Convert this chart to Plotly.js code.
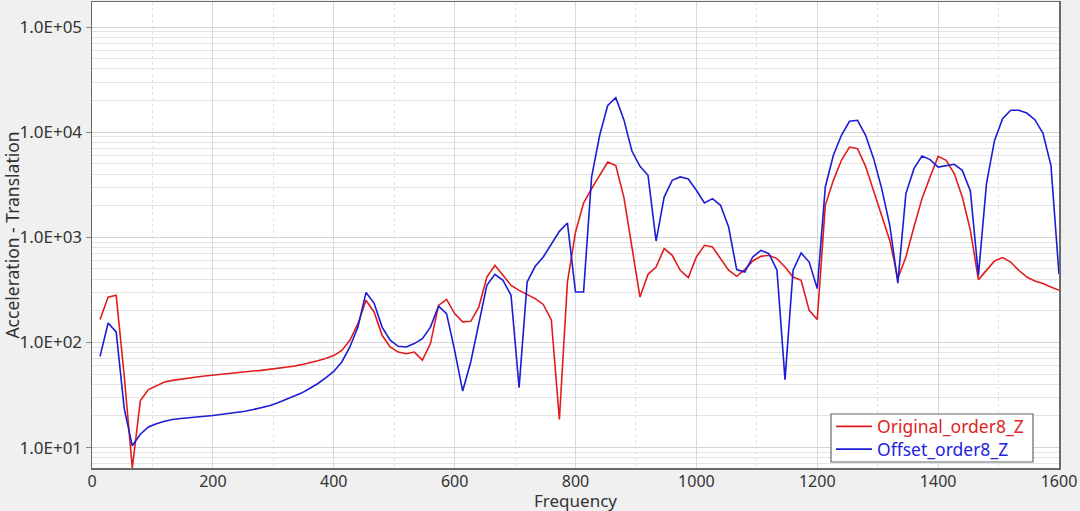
<!DOCTYPE html>
<html>
<head>
<meta charset="utf-8">
<script src="https://cdn.plot.ly/plotly-3.0.1.min.js"></script>
<style>
  html, body { margin: 0; padding: 0; background: #f0f0f0; }
  #chart { width: 1080px; height: 511px; }
</style>
</head>
<body>
<div id="chart"></div>
<script>
// Frequency (Hz) of order 8 samples
const frequency = [
  13.33, 26.67, 40, 53.33, 66.67, 80, 93.33, 106.67, 120, 133.33,
  146.67, 160, 173.33, 186.67, 200, 213.33, 226.67, 240, 253.33, 266.67,
  280, 293.33, 306.67, 320, 333.33, 346.67, 360, 373.33, 386.67, 400,
  413.33, 426.67, 440, 453.33, 466.67, 480, 493.33, 506.67, 520, 533.33,
  546.67, 560, 573.33, 586.67, 600, 613.33, 626.67, 640, 653.33, 666.67,
  680, 693.33, 706.67, 720, 733.33, 746.67, 760, 773.33, 786.67, 800,
  813.33, 826.67, 840, 853.33, 866.67, 880, 893.33, 906.67, 920, 933.33,
  946.67, 960, 973.33, 986.67, 1000, 1013.33, 1026.67, 1040, 1053.33, 1066.67,
  1080, 1093.33, 1106.67, 1120, 1133.33, 1146.67, 1160, 1173.33, 1186.67, 1200,
  1213.33, 1226.67, 1240, 1253.33, 1266.67, 1280, 1293.33, 1306.67, 1320, 1333.33,
  1346.67, 1360, 1373.33, 1386.67, 1400, 1413.33, 1426.67, 1440, 1453.33, 1466.67,
  1480, 1493.33, 1506.67, 1520, 1533.33, 1546.67, 1560, 1573.33, 1586.67, 1600
];

const originalOrder8Z = [
  165, 270, 281, 48, 6.4, 28, 35.6, 39, 42, 43.6,
  44.9, 45.9, 46.9, 48, 49, 50, 50.8, 51.9, 52.7, 53.5,
  54.3, 55.5, 56.5, 58, 59.5, 61.5, 64, 67, 70.5, 75,
  84, 105, 151, 252, 195, 117, 90.6, 81, 78, 81,
  68, 97.5, 225, 257, 188, 157, 159, 217, 419, 542,
  435, 349, 313, 287, 261, 230, 164, 18.5, 376, 1122,
  2118, 2904, 3890, 5200, 4810, 2415, 809, 270, 445, 522,
  781, 675, 486, 414, 650, 839, 809, 627, 486, 426,
  493, 596, 659, 675, 627, 522, 419, 390, 202, 165,
  2014, 3480, 5400, 7220, 6970, 4730, 2800, 1620, 935, 405,
  650, 1253, 2333, 3750, 5890, 5400, 4035, 2417, 1166, 396,
  486, 596, 641, 582, 486, 419, 384, 363, 337, 313
];

const offsetOrder8Z = [
  73.8, 153, 126, 23.5, 10.4, 13.4, 15.7, 16.9, 17.8, 18.5,
  18.9, 19.3, 19.6, 19.9, 20.2, 20.6, 21.1, 21.5, 22.2, 23,
  23.8, 25, 26.5, 28.5, 30.5, 33, 36.5, 40.5, 46, 53,
  65.2, 90.6, 140, 298, 237, 140, 105, 91.9, 90.6, 97.5,
  108.6, 140, 221, 188, 84, 34.5, 65.2, 151, 349, 445,
  390, 281, 37.2, 376, 530, 650, 850, 1140, 1367, 302,
  302, 3750, 9340, 18000, 21300, 13150, 6620, 4730, 3890, 922,
  2415, 3485, 3750, 3590, 2800, 2118, 2333, 2014, 1253, 493,
  468, 650, 752, 700, 486, 44.3, 486, 709, 582, 325,
  3010, 6030, 9340, 12680, 12970, 9340, 5600, 2904, 1300, 367,
  2606, 4500, 5930, 5480, 4660, 4840, 4950, 4335, 2760, 435,
  3240, 8360, 13460, 16150, 16150, 15200, 13150, 9820, 4840, 445
];

const seriesNames = ['Original_order8_Z', 'Offset_order8_Z'];
const xTitle = 'Frequency';
const yTitle = 'Acceleration - Translation';
const xTickVals = [0, 200, 400, 600, 800, 1000, 1200, 1400, 1600];
const yTickVals = [10, 100, 1000, 10000, 100000];
const yTickText = ['1.0E+01', '1.0E+02', '1.0E+03', '1.0E+04', '1.0E+05'];

const RED = 'rgb(226,28,28)';
const BLUE = 'rgb(28,28,214)';
const RED_TXT = 'rgb(222,36,36)';
const BLUE_TXT = 'rgb(36,36,222)';

const yMinor = [];
[1, 10, 100, 1000, 10000].forEach(d => {
  for (let m = 2; m <= 9; m++) yMinor.push(m * d);
});
yMinor.unshift(7, 8, 9);

const traces = [
  {
    x: frequency, y: originalOrder8Z, type: 'scatter', mode: 'lines',
    name: seriesNames[0], line: { color: RED, width: 1.6 }
  },
  {
    x: frequency, y: offsetOrder8Z, type: 'scatter', mode: 'lines',
    name: seriesNames[1], line: { color: BLUE, width: 1.6 }
  }
];

const fontFam = '"Noto Sans", "Open Sans", sans-serif';

// legend box (paper coordinates of the plot area)
const lg = { x0: 0.7642, x1: 0.9731, y0: 0.0129, y1: 0.1159,
             lx0: 0.7694, lx1: 0.8066, tx: 0.8097, rows: [0.0893, 0.0404] };

const shapes = [
  { type: 'rect', xref: 'paper', yref: 'paper', x0: lg.x0, x1: lg.x1, y0: lg.y0, y1: lg.y1,
    fillcolor: '#ffffff', line: { color: '#666666', width: 1.2 }, layer: 'above' },
  { type: 'line', xref: 'paper', yref: 'paper', x0: lg.lx0, x1: lg.lx1, y0: lg.rows[0], y1: lg.rows[0],
    line: { color: RED, width: 1.6 }, layer: 'above' },
  { type: 'line', xref: 'paper', yref: 'paper', x0: lg.lx0, x1: lg.lx1, y0: lg.rows[1], y1: lg.rows[1],
    line: { color: BLUE, width: 1.6 }, layer: 'above' }
];

const annotations = [
  { xref: 'paper', yref: 'paper', x: lg.tx, y: lg.rows[0], xanchor: 'left', yanchor: 'middle',
    text: seriesNames[0], showarrow: false, font: { family: fontFam, size: 17.5, color: RED_TXT } },
  { xref: 'paper', yref: 'paper', x: lg.tx, y: lg.rows[1], xanchor: 'left', yanchor: 'middle',
    text: seriesNames[1], showarrow: false, font: { family: fontFam, size: 17.5, color: BLUE_TXT } },
  // x-axis title, anchored to the bottom edge of the page
  { xref: 'paper', yref: 'paper', x: 0.5, y: -43 / 466, xanchor: 'center', yanchor: 'bottom',
    yshift: -2, borderpad: 0,
    text: xTitle, showarrow: false, font: { family: fontFam, size: 17, color: '#333333' } }
];

const layout = {
  width: 1080, height: 511,
  margin: { l: 92, r: 21, t: 2, b: 43 },
  paper_bgcolor: '#f0f0f0',
  plot_bgcolor: '#ffffff',
  font: { family: fontFam, size: 16, color: '#333333' },
  showlegend: false,
  shapes: shapes,
  annotations: annotations,
  xaxis: {
    range: [0, 1600],
    tickvals: xTickVals,
    ticks: '',
    ticklabelstandoff: -2,
    tickfont: { size: 16, color: '#333333' },
    showgrid: true, gridcolor: '#d9d9d9', gridwidth: 1,
    minor: { dtick: 100, tick0: 0, showgrid: true, gridcolor: '#e2e2e2', griddash: 'dot', ticks: '' },
    zeroline: false,
    showline: true, mirror: true, linecolor: '#6a6a6a', linewidth: 1.5
  },
  yaxis: {
    type: 'log',
    range: [0.806, 5.238],
    tickvals: yTickVals,
    ticktext: yTickText,
    ticks: 'outside', ticklen: 5, tickcolor: '#888888',
    tickfont: { size: 17, color: '#333333' },
    showgrid: true, gridcolor: '#d4d4d4', gridwidth: 1,
    minor: { tickvals: yMinor, showgrid: true, gridcolor: '#e3e3e3', ticks: '' },
    zeroline: false,
    showline: true, mirror: true, linecolor: '#6a6a6a', linewidth: 1.5,
    title: { text: yTitle, font: { size: 17.5, color: '#333333' }, standoff: 0 }
  }
};

Plotly.newPlot('chart', traces, layout, { staticPlot: true, displayModeBar: false });
</script>
</body>
</html>
